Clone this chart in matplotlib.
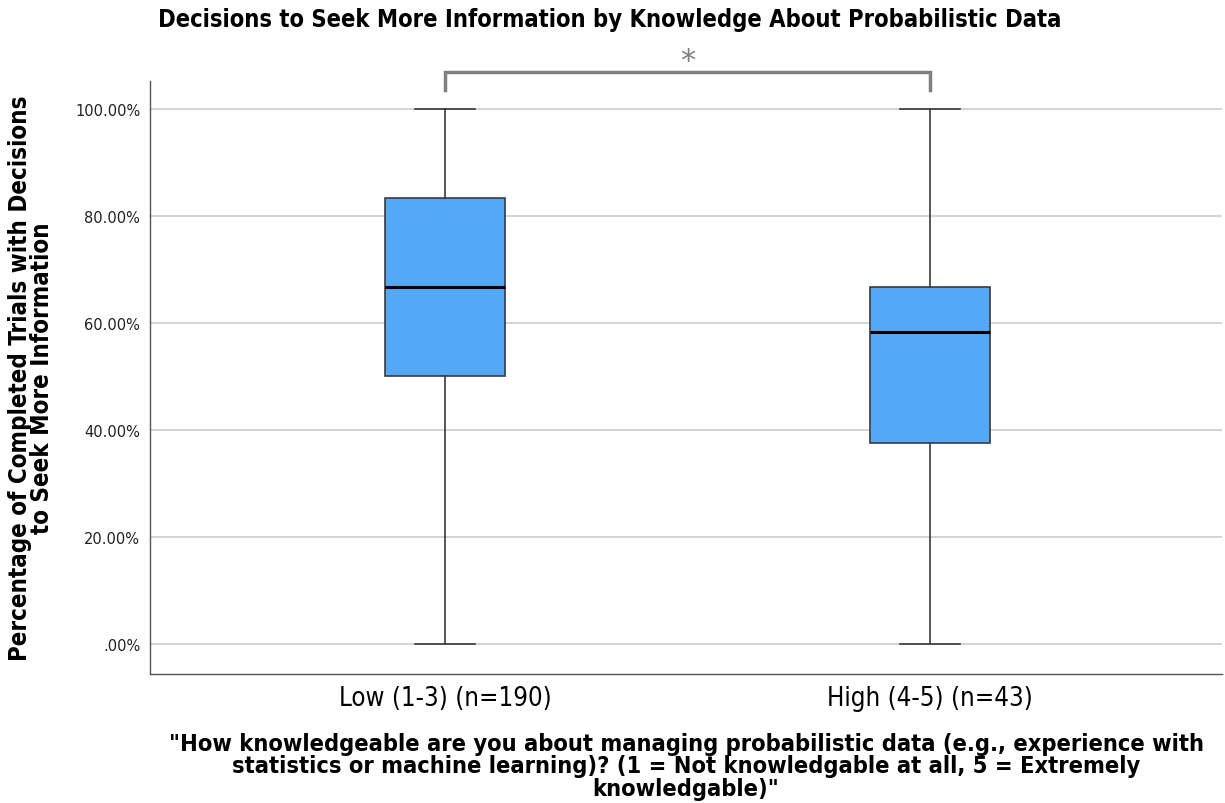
import matplotlib
matplotlib.use("Agg")
import matplotlib.pyplot as plt
from matplotlib.ticker import FuncFormatter
from matplotlib import font_manager as fm

# Five-number summaries (percent) for each knowledge group
categories = ["Low (1-3) (n=190)", "High (4-5) (n=43)"]
whisker_low = [0.0, 0.0]
q1 = [50.0, 37.5]
median = [66.67, 58.33]
q3 = [83.33, 66.67]
whisker_high = [100.0, 100.0]
y_ticks = [0, 20, 40, 60, 80, 100]

cond_bold = fm.FontProperties(family="DejaVu Sans", stretch="condensed", weight="bold")
cond_reg = fm.FontProperties(family="DejaVu Sans", stretch="condensed")

fig = plt.figure(figsize=(12.25, 8.04), dpi=100)
ax = fig.add_axes([150 / 1225, 1 - 675 / 804, 1072 / 1225, 593 / 804])

stats = []
for i, name in enumerate(categories):
    stats.append(dict(label=name, whislo=whisker_low[i], q1=q1[i], med=median[i],
                      q3=q3[i], whishi=whisker_high[i], fliers=[]))

positions = [1, 2]
ax.bxp(stats, positions=positions, widths=0.247, patch_artist=True,
       showfliers=False,
       boxprops=dict(facecolor="#55a8f5", edgecolor="#3a3a3a", linewidth=1.2),
       medianprops=dict(color="black", linewidth=2.2),
       whiskerprops=dict(color="#3a3a3a", linewidth=1.2),
       capprops=dict(color="#3a3a3a", linewidth=1.2),
       capwidths=0.124, zorder=3)

ax.set_xlim(0.392, 2.602)
ax.set_ylim(-5.6, 105.2)
ax.set_yticks(y_ticks)
ax.yaxis.set_major_formatter(FuncFormatter(lambda v, p: ".00%" if v == 0 else f"{v:.2f}%"))
ax.tick_params(axis="y", length=0, labelsize=10.5, colors="#222222", pad=7)
ax.tick_params(axis="x", length=0, pad=8)
for lbl in ax.get_xticklabels():
    fp = cond_reg.copy()
    fp.set_size(18.5)
    lbl.set_fontproperties(fp)
ax.grid(axis="y", color="#cccccc", linewidth=1.2, zorder=0)
ax.set_axisbelow(True)
for s in ["top", "right"]:
    ax.spines[s].set_visible(False)
for s in ["left", "bottom"]:
    ax.spines[s].set_color("#555555")
    ax.spines[s].set_linewidth(1.0)

# Significance bracket between the two groups
ax.plot([1, 1, 2, 2], [103.6, 106.9, 106.9, 103.6], color="#808080",
        linewidth=2.5, clip_on=False, solid_joinstyle="miter")
ax.text(1.5, 109.0, "*", ha="center", va="center", fontsize=22, color="#808080",
        clip_on=False)

fp_title = cond_bold.copy(); fp_title.set_size(17)
fig.text(610 / 1225, 1 - 20 / 804,
         "Decisions to Seek More Information by Knowledge About Probabilistic Data",
         ha="center", va="center", fontproperties=fp_title)

fp_y = cond_bold.copy(); fp_y.set_size(17.3)
fig.text(31 / 1225, 1 - 378 / 804,
         "Percentage of Completed Trials with Decisions\nto Seek More Information",
         ha="center", va="center", rotation=90, fontproperties=fp_y, linespacing=0.9)

fp_x = cond_bold.copy(); fp_x.set_size(16.9)
fig.text(686 / 1225, 1 - 767 / 804,
         "\"How knowledgeable are you about managing probabilistic data (e.g., experience with\n"
         "statistics or machine learning)? (1 = Not knowledgable at all, 5 = Extremely\n"
         "knowledgable)\"",
         ha="center", va="center", fontproperties=fp_x, linespacing=0.98)

fig.savefig("out.png", dpi=100, facecolor="white")
